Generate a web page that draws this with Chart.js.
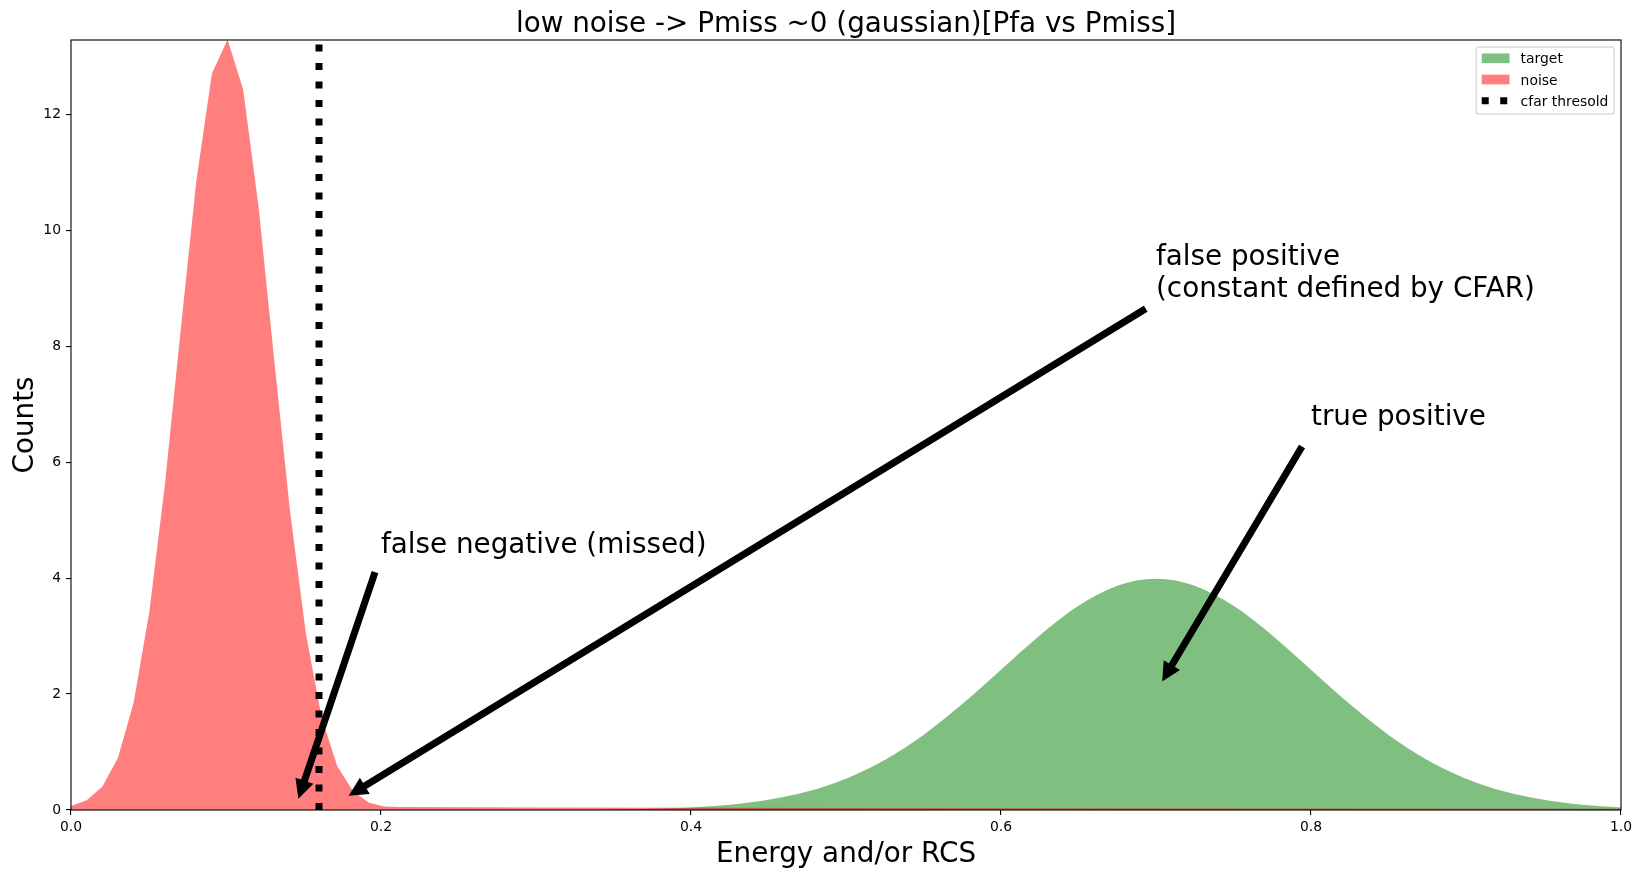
<!DOCTYPE html>
<html>
<head>
<meta charset="utf-8">
<script src="https://cdn.jsdelivr.net/npm/chart.js@4.4.1/dist/chart.umd.min.js"></script>
<style>
  html, body { margin: 0; padding: 0; background: #fff; }
  #wrap { width: 1641px; height: 877px; position: relative; }
</style>
</head>
<body>
<div id="wrap"><canvas id="chart"></canvas></div>
<script>
// noise histogram, sampled every 1/99 near the peak, then the thin floor
const noiseX = [0, 0.0101, 0.0202, 0.0303, 0.0404, 0.0505, 0.0606, 0.0707, 0.0808, 0.0909,
  0.101, 0.1111, 0.1212, 0.1313, 0.1414, 0.1515, 0.1616, 0.1717, 0.1818, 0.1919,
  0.202, 0.2121, 0.3, 0.4, 0.6, 0.8, 1.0];
const noiseY = [0.07, 0.17, 0.40, 0.90, 1.85, 3.41, 5.62, 8.26, 10.84, 12.70,
  13.29, 12.42, 10.36, 7.71, 5.13, 3.05, 1.61, 0.76, 0.33, 0.13,
  0.06, 0.05, 0.045, 0.04, 0.03, 0.025, 0.02];

// target (smooth bump around 0.7)
const targetX = [0, 0.25, 0.3, 0.325, 0.35, 0.375, 0.4, 0.425, 0.45, 0.475, 0.5,
  0.525, 0.55, 0.575, 0.6, 0.625, 0.65, 0.675, 0.7, 0.725, 0.75, 0.775, 0.8,
  0.825, 0.85, 0.875, 0.9, 0.925, 0.95, 0.975, 1.0];
const targetY = [0, 0, 0.001, 0.004, 0.009, 0.020, 0.044, 0.091, 0.175, 0.317, 0.540,
  0.863, 1.295, 1.827, 2.420, 3.011, 3.521, 3.867, 3.989, 3.867, 3.521, 3.011, 2.420,
  1.827, 1.295, 0.863, 0.540, 0.317, 0.175, 0.091, 0.044];

const cfarThreshold = 0.16;
const yTop = 13.28;
const xTicks = [0, 0.2, 0.4, 0.6, 0.8, 1.0];
const yTicks = [0, 2, 4, 6, 8, 10, 12];
const seriesLabels = ['target', 'noise', 'cfar thresold'];
const seriesColors = ['rgba(0,128,0,0.5)', 'rgba(255,0,0,0.5)', '#000'];

// annotations, data coords (text = first line baseline)
const noteTexts = [['false negative (missed)'], ['false positive', '(constant defined by CFAR)'], ['true positive']];
const notePos = [[0.2, 4.43], [0.7, 9.40], [0.8, 6.64]];
const arrowFrom = [[0.196, 4.09], [0.693, 8.64], [0.794, 6.26]];
const arrowTo = [[0.147, 0.22], [0.18, 0.26], [0.7045, 2.24]];

const titleText = 'low noise -> Pmiss ~0 (gaussian)[Pfa vs Pmiss]';

Chart.defaults.font.family = '"DejaVu Sans"';
Chart.defaults.color = '#000';

function pts(xs, ys) {
  return xs.map((x, i) => ({x: x, y: ys[i]}));
}

function drawArrow(ctx, x0, y0, x1, y1) {
  const w = 5.6, hw = 16.7, hl = 16.7;
  const dx = x1 - x0, dy = y1 - y0, len = Math.hypot(dx, dy);
  const ux = dx / len, uy = dy / len, nx = -uy, ny = ux;
  const bx = x1 - ux * hl, by = y1 - uy * hl;
  ctx.beginPath();
  ctx.moveTo(x0 + nx * w / 2, y0 + ny * w / 2);
  ctx.lineTo(bx + nx * w / 2, by + ny * w / 2);
  ctx.lineTo(bx + nx * hw / 2, by + ny * hw / 2);
  ctx.lineTo(x1, y1);
  ctx.lineTo(bx - nx * hw / 2, by - ny * hw / 2);
  ctx.lineTo(bx - nx * w / 2, by - ny * w / 2);
  ctx.lineTo(x0 - nx * w / 2, y0 - ny * w / 2);
  ctx.closePath();
  ctx.fillStyle = '#000';
  ctx.fill();
  ctx.lineWidth = 1.4;
  ctx.strokeStyle = '#000';
  ctx.lineJoin = 'miter';
  ctx.stroke();
}

// frame, title, annotations and a matplotlib-style legend
const decor = {
  id: 'decor',
  afterDatasetsDraw(chart) {
    const {ctx, chartArea: a, scales: {x, y}} = chart;
    ctx.save();

    ctx.strokeStyle = '#000';
    ctx.lineWidth = 1.1;
    ctx.strokeRect(a.left, a.top, a.right - a.left, a.bottom - a.top);

    for (let i = 0; i < arrowFrom.length; i++) {
      drawArrow(ctx,
        x.getPixelForValue(arrowFrom[i][0]), y.getPixelForValue(arrowFrom[i][1]),
        x.getPixelForValue(arrowTo[i][0]), y.getPixelForValue(arrowTo[i][1]));
    }

    ctx.fillStyle = '#000';
    ctx.font = '27.8px "DejaVu Sans"';
    ctx.textAlign = 'left';
    ctx.textBaseline = 'alphabetic';
    noteTexts.forEach((lines, i) => {
      const px = x.getPixelForValue(notePos[i][0]);
      const py = y.getPixelForValue(notePos[i][1]);
      lines.forEach((t, j) => ctx.fillText(t, px, py + j * 32.3));
    });

    ctx.textAlign = 'center';
    ctx.fillText(titleText, (a.left + a.right) / 2, a.top - 8.3);

    // legend
    ctx.font = '13.9px "DejaVu Sans"';
    const maxW = Math.max(...seriesLabels.map(t => ctx.measureText(t).width));
    const boxW = 5.6 + 27.8 + 11.1 + maxW + 5.6;
    const boxH = 67;
    const bx = a.right - 7 - boxW;
    const by = a.top + 7;
    ctx.beginPath();
    ctx.roundRect(bx, by, boxW, boxH, 2.8);
    ctx.fillStyle = 'rgba(255,255,255,0.8)';
    ctx.fill();
    ctx.strokeStyle = '#cccccc';
    ctx.lineWidth = 1.1;
    ctx.stroke();
    ctx.textAlign = 'left';
    seriesLabels.forEach((t, i) => {
      const cy = by + 11.3 + i * 21.2;
      const hx = bx + 5.6;
      if (i < 2) {
        ctx.fillStyle = seriesColors[i];
        ctx.fillRect(hx, cy - 4.85, 27.8, 9.7);
      } else {
        ctx.strokeStyle = '#000';
        ctx.lineWidth = 7;
        ctx.lineCap = 'butt';
        ctx.setLineDash([7, 11.5]);
        ctx.beginPath();
        ctx.moveTo(hx, cy);
        ctx.lineTo(hx + 27.8, cy);
        ctx.stroke();
        ctx.setLineDash([]);
      }
      ctx.fillStyle = '#000';
      ctx.fillText(t, hx + 27.8 + 11.1, cy + 5);
    });

    ctx.restore();
  }
};

new Chart(document.getElementById('chart'), {
  type: 'line',
  data: {
    datasets: [
      {
        label: seriesLabels[0],
        data: pts(targetX, targetY),
        fill: 'origin',
        backgroundColor: seriesColors[0],
        borderColor: 'transparent',
        borderWidth: 0,
        pointRadius: 0,
        cubicInterpolationMode: 'monotone',
        order: 3
      },
      {
        label: seriesLabels[1],
        data: pts(noiseX, noiseY),
        fill: 'origin',
        backgroundColor: seriesColors[1],
        borderColor: 'transparent',
        borderWidth: 0,
        pointRadius: 0,
        tension: 0,
        order: 2
      },
      {
        label: seriesLabels[2],
        data: [{x: cfarThreshold, y: 0}, {x: cfarThreshold, y: yTop}],
        fill: false,
        borderColor: seriesColors[2],
        borderWidth: 7,
        borderDash: [7, 11.5],
        borderCapStyle: 'butt',
        pointRadius: 0,
        order: 1
      }
    ]
  },
  options: {
    responsive: true,
    maintainAspectRatio: false,
    animation: false,
    layout: {padding: {top: 40, right: 20, left: 0, bottom: 0}},
    plugins: {
      legend: {display: false},
      tooltip: {enabled: false},
      title: {display: false}
    },
    scales: {
      x: {
        type: 'linear',
        min: 0,
        max: 1,
        afterBuildTicks: s => { s.ticks = xTicks.map(v => ({value: v})); },
        afterFit: s => { s.height = 67; },
        ticks: {
          callback: v => v.toFixed(1),
          font: {size: 13.9},
          padding: 4,
          maxRotation: 0,
          autoSkip: false
        },
        grid: {drawOnChartArea: false, drawTicks: true, tickLength: 5, color: '#000', lineWidth: 1.1},
        border: {display: false},
        title: {display: true, text: 'Energy and/or RCS', font: {size: 27.8}, padding: {top: 0, bottom: 6}}
      },
      y: {
        type: 'linear',
        min: 0,
        max: yTop,
        afterBuildTicks: s => { s.ticks = yTicks.map(v => ({value: v})); },
        afterFit: s => { s.width = 71; },
        ticks: {
          callback: v => String(v),
          font: {size: 13.9},
          padding: 5,
          autoSkip: false
        },
        grid: {drawOnChartArea: false, drawTicks: true, tickLength: 5, color: '#000', lineWidth: 1.1},
        border: {display: false},
        title: {display: true, text: 'Counts', font: {size: 27.8}, padding: {top: 9, bottom: 0}}
      }
    }
  },
  plugins: [decor]
});
</script>
</body>
</html>
